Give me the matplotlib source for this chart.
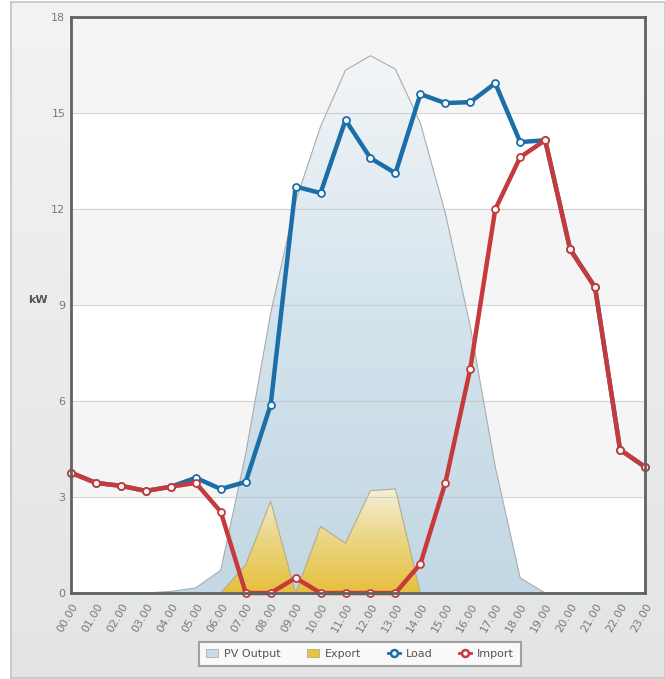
import numpy as np
import matplotlib.pyplot as plt
from matplotlib.patches import Patch, Rectangle
from matplotlib.lines import Line2D

hours = ['%02d.00' % h for h in range(24)]

pv_output = [0, 0, 0, 0, 0.05, 0.16, 0.71, 4.35, 8.74, 12.23, 14.58, 16.34,
             16.79, 16.37, 14.68, 11.87, 8.33, 3.94, 0.47, 0, 0, 0, 0, 0]
export = [0, 0, 0, 0, 0, 0, 0, 0.88, 2.86, 0, 2.08, 1.56,
          3.2, 3.25, 0, 0, 0, 0, 0, 0, 0, 0, 0, 0]
load = [3.76, 3.44, 3.35, 3.19, 3.32, 3.6, 3.25, 3.47, 5.88, 12.7, 12.5, 14.78,
        13.59, 13.12, 15.59, 15.31, 15.34, 15.93, 14.09, 14.15, 10.74, 9.55, 4.48, 3.94]
imp = [3.76, 3.44, 3.35, 3.19, 3.32, 3.44, 2.54, 0, 0, 0.47, 0, 0,
       0, 0, 0.91, 3.44, 7.01, 11.99, 13.62, 14.15, 10.74, 9.55, 4.48, 3.94]

x = np.arange(len(hours))

fig = plt.figure(figsize=(6.65, 6.79), dpi=100)
fig.patch.set_facecolor('white')

# grey panel behind the chart
bg = fig.add_axes([11 / 665, 1 / 679, 1 - 11 / 665, 676 / 679], zorder=-5)
grad = np.linspace(0, 1, 256).reshape(-1, 1)
bg.imshow(grad, aspect='auto', extent=[0, 1, 0, 1], origin='upper',
          cmap=plt.matplotlib.colors.LinearSegmentedColormap.from_list(
              'bgc', ['#f3f3f3', '#e3e4e4']))
bg.set_xlim(0, 1)
bg.set_ylim(0, 1)
bg.set_xticks([])
bg.set_yticks([])
for s in bg.spines.values():
    s.set_color('#c4c4c4')
    s.set_linewidth(1.2)

ax = fig.add_axes([71 / 665, 1 - 593 / 679, 574 / 665, 576 / 679])
ax.set_facecolor('white')
ax.set_xlim(0, 23)
ax.set_ylim(0, 18)

# alternating bands
for lo in (3, 9, 15):
    ax.axhspan(lo, lo + 3, color='#f5f5f5', zorder=0, lw=0)

# PV output area with gradient
pv_poly = ax.fill_between(x, pv_output, color='none', edgecolor='none', zorder=1)
pv_cmap = plt.matplotlib.colors.LinearSegmentedColormap.from_list(
    'pv', ['#c3d8e4', '#d3e3ec', '#f3f6f8'])
im = ax.imshow(np.linspace(0, 1, 256).reshape(-1, 1), aspect='auto',
               extent=[0, 23, 0, 17], origin='lower', cmap=pv_cmap, zorder=1)
im.set_clip_path(pv_poly.get_paths()[0], transform=ax.transData)
ax.plot(x, pv_output, color='#a9acae', lw=0.8, zorder=1.5)

# export area with gradient
ex_poly = ax.fill_between(x, export, color='none', edgecolor='none', zorder=2)
ex_cmap = plt.matplotlib.colors.LinearSegmentedColormap.from_list(
    'ex', ['#e5c03e', '#ebd582', '#f4f0dc'])
im2 = ax.imshow(np.linspace(0, 1, 256).reshape(-1, 1), aspect='auto',
                extent=[0, 23, 0, 3.3], origin='lower', cmap=ex_cmap, zorder=2)
im2.set_clip_path(ex_poly.get_paths()[0], transform=ax.transData)
ax.plot(x, export, color='#b5ab8a', lw=0.8, zorder=2.5)
ax.set_xlim(0, 23)
ax.set_ylim(0, 18)

# grid lines
for g in (3, 6, 9, 12, 15):
    ax.axhline(g, color='#bcbcbc', lw=0.8, alpha=0.6, zorder=2.7)

load_c = '#1b6ea8'
imp_c = '#c73a3c'
ax.plot(x, load, color=load_c, lw=3.2, marker='o', ms=5, mfc='white',
        mec=load_c, mew=1.3, zorder=4, clip_on=False)
ax.plot(x, imp, color=imp_c, lw=3.2, marker='o', ms=5, mfc='white',
        mec=imp_c, mew=1.3, zorder=5, clip_on=False)

for s in ax.spines.values():
    s.set_color('#5f6263')
    s.set_linewidth(2)
    s.set_zorder(6)

ax.set_yticks(range(0, 19, 3))
ax.set_xticks(x)
ax.set_xticklabels(hours, rotation=60, ha='right', rotation_mode='anchor')
ax.tick_params(axis='both', length=0, labelsize=8, labelcolor='#7a7a7a')
ax.tick_params(axis='x', pad=6)
ax.tick_params(axis='y', pad=4)

ax.set_ylabel('kW', rotation=0, fontsize=8, fontweight='bold', color='#555555')
ax.yaxis.set_label_coords(-0.057, 0.5)

handles = [
    Patch(facecolor='#c8dce8', edgecolor='#a9acae', lw=0.6, label='PV Output'),
    Patch(facecolor='#e5c43e', edgecolor='#b5ab8a', lw=0.6, label='Export'),
    Line2D([], [], color=load_c, lw=2, marker='o', ms=5, mfc='white',
           mec=load_c, mew=1.8, label='Load'),
    Line2D([], [], color=imp_c, lw=2, marker='o', ms=5, mfc='white',
           mec=imp_c, mew=1.8, label='Import'),
]
leg = fig.legend(handles=handles, loc='center', bbox_to_anchor=(360 / 665, 1 - 654 / 679),
                 ncol=4, fontsize=8, frameon=True, fancybox=False,
                 handlelength=1.1, handleheight=0.8, columnspacing=2.4,
                 handletextpad=0.5, borderpad=0.6, labelcolor='#555555')
leg.get_frame().set_edgecolor('#8a8a8a')
leg.get_frame().set_linewidth(1.5)
leg.get_frame().set_facecolor('white')

fig.savefig('out.png', dpi=100, facecolor=fig.get_facecolor())
